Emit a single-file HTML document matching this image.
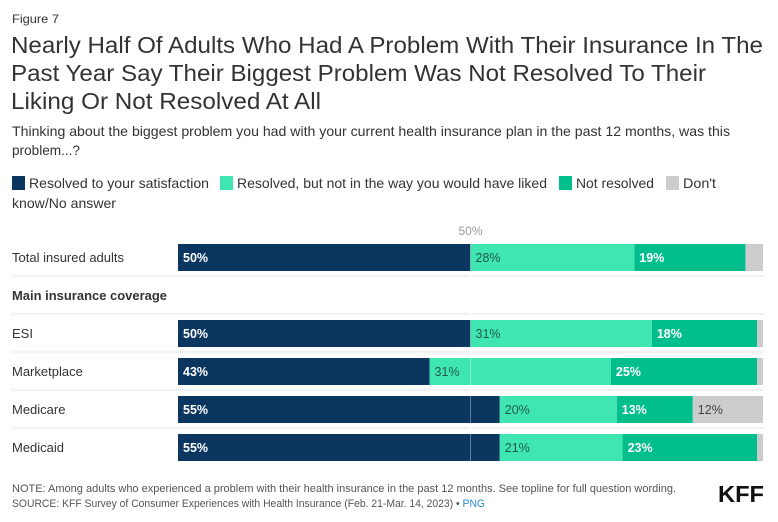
<!DOCTYPE html>
<html><head><meta charset="utf-8"><style>
html,body{margin:0;padding:0;background:#fff;}
svg{display:block;font-family:"Liberation Sans",Arial,sans-serif;}
</style></head><body>
<svg id="chart" width="778" height="522" viewBox="0 0 778 522" xmlns="http://www.w3.org/2000/svg">
<text x="12" y="23" font-size="12" fill="#333" textLength="47" lengthAdjust="spacingAndGlyphs">Figure 7</text>
<g font-size="23" fill="#333">
<text x="11" y="53" textLength="752" lengthAdjust="spacingAndGlyphs">Nearly Half Of Adults Who Had A Problem With Their Insurance In The</text>
<text x="11" y="81" textLength="695" lengthAdjust="spacingAndGlyphs">Past Year Say Their Biggest Problem Was Not Resolved To Their</text>
<text x="11" y="109" textLength="310" lengthAdjust="spacingAndGlyphs">Liking Or Not Resolved At All</text>
</g>
<g font-size="14" fill="#333">
<text x="12" y="136" textLength="718" lengthAdjust="spacingAndGlyphs">Thinking about the biggest problem you had with your current health insurance plan in the past 12 months, was this</text>
<text x="12" y="155" textLength="68" lengthAdjust="spacingAndGlyphs">problem...?</text>
</g>
<g font-size="14" fill="#333">
<rect x="12" y="176" width="13" height="14" fill="#0b3660"/>
<text x="29" y="188" textLength="180" lengthAdjust="spacingAndGlyphs">Resolved to your satisfaction</text>
<rect x="220" y="176" width="13" height="14" fill="#40e6b2"/>
<text x="237" y="188" textLength="310" lengthAdjust="spacingAndGlyphs">Resolved, but not in the way you would have liked</text>
<rect x="559" y="176" width="13" height="14" fill="#00bf8c"/>
<text x="576" y="188" textLength="78" lengthAdjust="spacingAndGlyphs">Not resolved</text>
<rect x="666" y="176" width="13" height="14" fill="#cccccc"/>
<text x="683" y="188" textLength="33" lengthAdjust="spacingAndGlyphs">Don't</text>
<text x="12" y="208" textLength="104" lengthAdjust="spacingAndGlyphs">know/No answer</text>
</g>
<g id="plot"></g>
<g font-size="11" fill="#555">
<text x="12" y="492" textLength="664" lengthAdjust="spacingAndGlyphs">NOTE: Among adults who experienced a problem with their health insurance in the past 12 months. See topline for full question wording.</text>
<text x="12" y="507" textLength="473" lengthAdjust="spacingAndGlyphs">SOURCE: KFF Survey of Consumer Experiences with Health Insurance (Feb. 21-Mar. 14, 2023) • <tspan fill="#2a8ad1">PNG</tspan></text>
<text x="718" y="502" font-size="23" font-weight="bold" fill="#111" textLength="46" lengthAdjust="spacingAndGlyphs">KFF</text>
</g>
</svg>
<script>
const categories = ["Total insured adults","ESI","Marketplace","Medicare","Medicaid"];
const satisfied = [50,50,43,55,55];
const notLiked = [28,31,31,20,21];
const notResolved = [19,18,25,13,23];
const dontKnow = [3,1,1,12,1];
const printedDontKnow = [null,null,null,"12%",null];
const tickValues = [50];
const tickLabels = ["50%"];

const NS = "http://www.w3.org/2000/svg";
const plot = document.getElementById('plot');
const x0 = 178, xScale = v => x0 + v * 5.85;
const rowTops = [244, 320, 358, 396, 434];
const barH = 27;
function mk(tag, attrs){const e=document.createElementNS(NS,tag);for(const k in attrs)e.setAttribute(k,attrs[k]);return e;}

// separators
[276, 314, 352, 390, 428].forEach(y=>{
  const l = mk('line',{x1:12,x2:764,y1:y,y2:y,stroke:'#ccc','stroke-dasharray':'1,1'});
  
  
  plot.appendChild(l);
});
// group header
const gh = mk('text',{x:12,y:300,'font-size':12.5,'font-weight':'bold',fill:'#333',textLength:155,lengthAdjust:'spacingAndGlyphs'});
gh.textContent = "Main insurance coverage";


plot.appendChild(gh);

const series = [
  {vals:satisfied,color:'#0b3660',tc:'#fff',bold:true,name:'satisfied'},
  {vals:notLiked,color:'#40e6b2',tc:'#1f5a48',bold:false,name:'not-liked'},
  {vals:notResolved,color:'#00bf8c',tc:'#fff',bold:true,name:'not-resolved'},
  {vals:dontKnow,color:'#cccccc',tc:'#444',bold:false,name:'dont-know'}
];
categories.forEach((cat,i)=>{
  const y = rowTops[i];
  const lab = mk('text',{x:12,y:y+18,'font-size':13,fill:'#333'});
  lab.textContent = cat;
  
  
  plot.appendChild(lab);
  let cum = 0;
  series.forEach((s,si)=>{
    const v = s.vals[i];
    const xa = xScale(cum), xb = xScale(cum+v);
    const r = mk('rect',{x:xa,y:y,width:Math.max(0,xb-xa),height:barH,fill:s.color});
    
    
    plot.appendChild(r);
    let txt = si<3 ? v+'%' : printedDontKnow[i];
    if(txt){
      let tx = xa+5;
      if(s.name==='not-liked' && i===2) tx = xa+5;
      const t = mk('text',{x:tx,y:y+18,'font-size':12.5,fill:s.tc,'font-weight':s.bold?'bold':'normal'});
      t.textContent = txt;
      
      
      plot.appendChild(t);
    }
    cum += v;
  });
});
// midline
tickValues.forEach((tv,k)=>{
  const x = xScale(tv);
  const l = mk('line',{x1:x,x2:x,y1:244,y2:461,stroke:'rgba(255,255,255,0.35)','stroke-width':1});
  
  
  plot.appendChild(l);
  const t = mk('text',{x:x,y:235,'font-size':12,fill:'#999','text-anchor':'middle'});
  t.textContent = tickLabels[k];
  
  
  plot.appendChild(t);
});
</script>
</body></html>
